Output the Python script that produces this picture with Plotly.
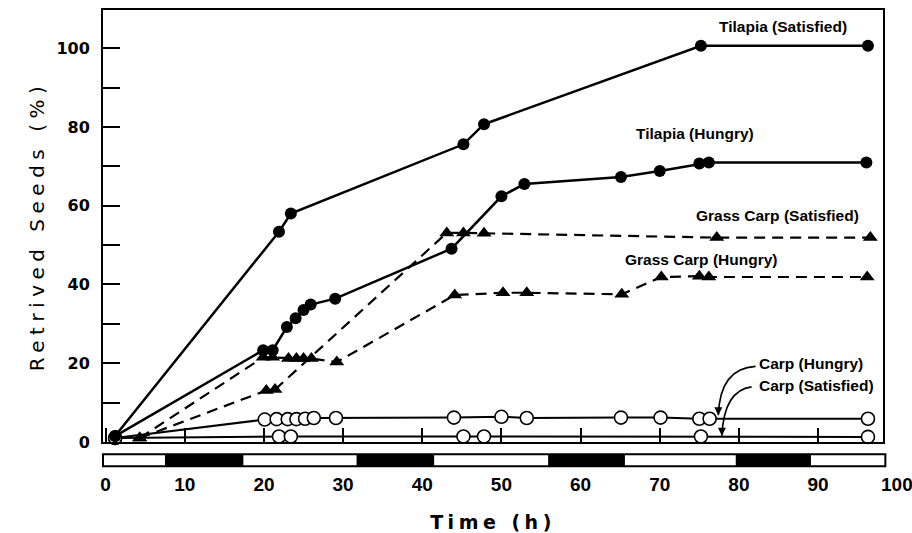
import plotly.graph_objects as go

# ---------------- data ----------------
ts_time = [1.2, 21.9, 23.4, 45.2, 47.8, 75.2, 96.3]
ts_val = [1.5, 53.4, 58.0, 75.6, 80.7, 100.6, 100.6]

th_time = [1.2, 19.9, 21.1, 22.9, 24.0, 25.0, 25.9, 29.0, 43.7, 50.0, 52.9, 65.1, 70.0, 75.0, 76.2, 96.1]
th_val = [1.5, 23.3, 23.3, 29.2, 31.4, 33.5, 34.9, 36.4, 49.1, 62.4, 65.5, 67.3, 68.8, 70.7, 71.0, 71.0]

gs_time = [4.3, 20.3, 21.4, 43.1, 45.2, 47.8, 77.2, 96.6]
gs_val = [1.0, 13.1, 13.3, 53.1, 53.1, 53.0, 51.9, 51.9]

gh_time = [4.3, 19.9, 21.1, 23.1, 24.1, 25.0, 26.0, 29.2, 44.1, 50.2, 53.2, 65.2, 70.2, 75.0, 76.2, 96.2]
gh_val = [1.0, 21.5, 21.5, 21.2, 21.2, 21.2, 21.2, 20.3, 37.3, 37.9, 37.9, 37.5, 41.9, 42.1, 41.9, 41.9]

ch_time = [1.2, 20.1, 21.6, 23.0, 24.1, 25.2, 26.3, 29.1, 44.0, 50.0, 53.2, 65.1, 70.1, 75.0, 76.3, 96.3]
ch_val = [1.0, 5.7, 5.8, 5.8, 5.8, 5.9, 6.1, 6.1, 6.2, 6.4, 6.1, 6.2, 6.2, 5.9, 5.9, 5.9]

cs_time = [1.2, 21.9, 23.4, 45.2, 47.8, 75.2, 96.3]
cs_val = [1.0, 1.4, 1.4, 1.4, 1.4, 1.4, 1.3]

# light / dark schedule (dark periods, h)
dark_start = [7.5, 31.7, 55.9, 79.6]
dark_end = [17.4, 41.5, 65.6, 89.1]

x_ticks = [0, 10, 20, 30, 40, 50, 60, 70, 80, 90]
y_ticks = [0, 10, 20, 30, 40, 50, 60, 70, 80, 90, 100]
y_ticktext = ["0", "", "20", "", "40", "", "60", "", "80", "", "100"]

# series labels: (text, time, value, anchor)
labels = [
    ("Tilapia (Satisfied)", 85.6, 105.4, "center"),
    ("Tilapia (Hungry)", 74.5, 78.4, "center"),
    ("Grass Carp (Satisfied)", 84.9, 57.6, "center"),
    ("Grass Carp (Hungry)", 75.2, 46.4, "center"),
    ("Carp (Hungry)", 82.3, 19.9, "left"),
    ("Carp (Satisfied)", 82.3, 14.4, "left"),
]
# curved pointer arrows: start, control, tip (time, value)
pointers = [
    ((82.1, 19.2), (77.6, 18.7), (77.4, 6.8)),
    ((81.6, 14.0), (78.1, 13.1), (77.85, 1.6)),
]

# ---------------- figure ----------------
XMIN, XMAX = -0.33, 98.2
YMIN, YMAX = 0.0, 109.7

fig = go.Figure()

def add_series(t, v, name, symbol, size, dash, width, open_marker=False):
    marker = dict(symbol=symbol, size=size, color="black")
    if open_marker:
        marker = dict(symbol="circle", size=size, color="white",
                      line=dict(color="black", width=1.6))
    fig.add_trace(go.Scatter(
        x=t, y=v, mode="lines+markers", name=name,
        line=dict(color="black", width=width, dash=dash),
        marker=marker, cliponaxis=False, showlegend=False))

add_series(cs_time, cs_val, "Carp (Satisfied)", "circle", 13, "solid", 2, True)
add_series(ch_time, ch_val, "Carp (Hungry)", "circle", 13, "solid", 2, True)
add_series(gs_time, gs_val, "Grass Carp (Satisfied)", "triangle-up", 13, "11px,7px", 2.2)
add_series(gh_time, gh_val, "Grass Carp (Hungry)", "triangle-up", 13, "11px,7px", 2.2)
add_series(th_time, th_val, "Tilapia (Hungry)", "circle", 12, "solid", 2.5)
add_series(ts_time, ts_val, "Tilapia (Satisfied)", "circle", 12, "solid", 2.5)

# light/dark bar below the axis
BAR_TOP, BAR_BOT = -0.0285, -0.0563
shapes = [dict(type="rect", xref="paper", yref="paper", x0=0, x1=1.003,
               y0=BAR_BOT, y1=BAR_TOP, fillcolor="white",
               line=dict(color="black", width=2), layer="above")]
for s, e in zip(dark_start, dark_end):
    shapes.append(dict(type="rect", xref="x", yref="paper", x0=s, x1=e,
                       y0=BAR_BOT, y1=BAR_TOP, fillcolor="black",
                       line=dict(width=0), layer="above"))
for (p0, pc, p1) in pointers:
    shapes.append(dict(type="path", xref="x", yref="y",
                       path=f"M {p0[0]},{p0[1]} Q {pc[0]},{pc[1]} {p1[0]},{p1[1]}",
                       line=dict(color="black", width=1.6)))

ann = []
lab_font = dict(family="Liberation Sans Narrow, Liberation Sans, Arial", size=15.5,
                color="black", weight="bold")
for text, t, v, anc in labels:
    ann.append(dict(x=t, y=v, xref="x", yref="y", text=text, showarrow=False,
                    xanchor=anc, yanchor="middle", font=lab_font))
for (p0, pc, p1) in pointers:
    ann.append(dict(x=p1[0], y=p1[1], xref="x", yref="y", text="", showarrow=True,
                    ax=0, ay=-9, arrowhead=2, arrowsize=1, arrowwidth=1.6,
                    arrowcolor="black"))

tick_font = dict(family="Liberation Sans, Arial", size=19, color="black", weight="bold")
# the '100' label lies beyond the frame's right edge
ann.append(dict(x=(100 - XMIN) / (XMAX - XMIN), y=-0.098, xref="paper", yref="paper",
                text="100", showarrow=False, xanchor="center", yanchor="middle",
                font=tick_font))

fig.update_layout(
    width=912, height=533,
    margin=dict(l=103, r=29, t=10, b=91, autoexpand=False),
    paper_bgcolor="white", plot_bgcolor="white",
    shapes=shapes, annotations=ann,
    xaxis=dict(range=[XMIN, XMAX], tickvals=x_ticks, ticks="inside", ticklen=14,
               tickwidth=2, tickcolor="black", showline=True, linecolor="black",
               linewidth=2, mirror=True, showgrid=False, zeroline=False,
               automargin=False,
               tickfont=tick_font, ticklabelstandoff=24,
               title=dict(text="Time (h)", standoff=22,
                          font=dict(family="DejaVu Sans", size=19, color="black",
                                    weight="bold"))),
    yaxis=dict(range=[YMIN, YMAX], tickvals=y_ticks, ticktext=y_ticktext,
               ticks="inside", ticklen=17, tickwidth=2, tickcolor="black",
               showline=True, linecolor="black", linewidth=2, mirror=True,
               showgrid=False, zeroline=False, ticklabelstandoff=8,
               automargin=False,
               tickfont=dict(family="DejaVu Sans", size=16, color="black", weight="bold"),
               title=dict(text="Retrived Seeds (%)", standoff=6,
                          font=dict(family="DejaVu Sans", size=20, color="black"))),
)

# widen the letter spacing of the axis titles, as in the printed figure
spacing_js = """
var gd = document.getElementById('{plot_id}');
gd.querySelectorAll('text.xtitle').forEach(function(e){ e.style.letterSpacing = '4.5px'; });
gd.querySelectorAll('text.ytitle').forEach(function(e){ e.style.letterSpacing = '5.5px'; });
"""

fig.write_html("out.html", post_script=spacing_js)
